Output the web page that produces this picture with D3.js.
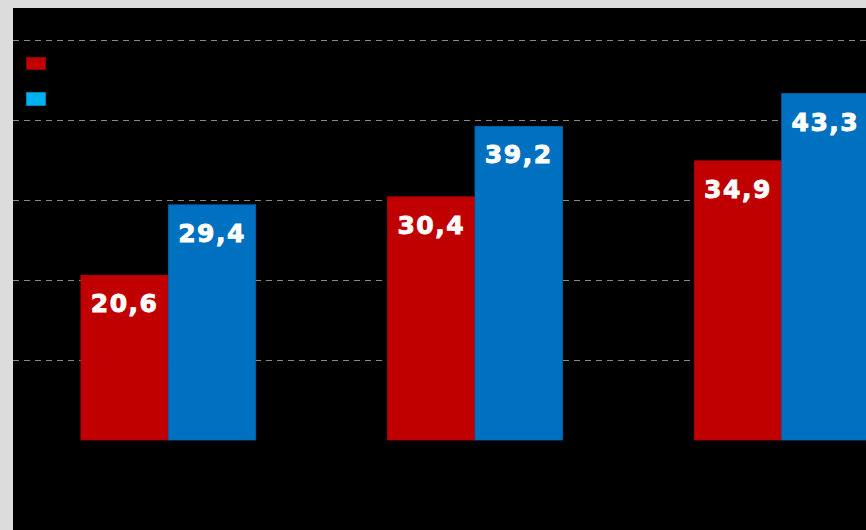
<!DOCTYPE html>
<html>
<head>
<meta charset="utf-8">
<script src="https://cdn.jsdelivr.net/npm/d3@7"></script>
<style>
  body { margin: 0; background: #dcdcdc; }
  svg { display: block; }
</style>
</head>
<body>
<div id="chart"></div>
<script>
// chart data
var groups = ["g1", "g2", "g3"];
var seriesNames = ["red", "blue"];
var redValues = [20.6, 30.4, 34.9];
var blueValues = [29.4, 39.2, 43.3];
var gridTicks = [10, 20, 30, 40, 50];

var svgWidth = 866;
var svgHeight = 530;

var svg = d3.select("#chart")
    .append("svg")
    .attr("width", svgWidth)
    .attr("height", svgHeight);

// black plot area inside the grey frame
svg.append("rect")
    .attr("x", 13)
    .attr("y", 8)
    .attr("width", svgWidth - 13)
    .attr("height", svgHeight - 8)
    .attr("fill", "#000");

var xScale = d3.scaleBand()
    .domain(groups)
    .range([15, 935])
    .paddingInner(0.43)
    .paddingOuter(0.215);

var xSub = d3.scaleBand()
    .domain(seriesNames)
    .range([0, xScale.bandwidth()]);

var yScale = d3.scaleLinear()
    .domain([0, 50])
    .range([440, 40]);

// dashed grid lines
svg.append("g")
    .selectAll("line")
    .data(gridTicks)
    .enter()
    .append("line")
    .attr("x1", 13)
    .attr("x2", svgWidth)
    .attr("y1", d => Math.round(yScale(d)) + 0.5)
    .attr("y2", d => Math.round(yScale(d)) + 0.5)
    .attr("stroke", "#8a8a8a")
    .attr("stroke-width", 1)
    .attr("stroke-dasharray", "6,5");

var colors = { red: "#c00000", blue: "#0070c0" };
var strokes = { red: "#b00000", blue: "#0064ac" };

var rows = groups.map((g, i) => ({
    group: g,
    values: [
        { key: "red", value: redValues[i] },
        { key: "blue", value: blueValues[i] }
    ]
}));

var groupSel = svg.selectAll(".grp")
    .data(rows)
    .enter()
    .append("g")
    .attr("class", "grp")
    .attr("transform", d => `translate(${xScale(d.group)}, 0)`);

groupSel.selectAll("rect")
    .data(d => d.values)
    .enter()
    .append("rect")
    .attr("x", d => xSub(d.key))
    .attr("y", d => yScale(d.value))
    .attr("width", xSub.bandwidth())
    .attr("height", d => yScale(0) - yScale(d.value))
    .attr("fill", d => colors[d.key])
    .attr("stroke", d => strokes[d.key])
    .attr("stroke-width", 0.8);

// value labels inside the bars
groupSel.selectAll("text")
    .data(d => d.values)
    .enter()
    .append("text")
    .attr("x", d => xSub(d.key) + xSub.bandwidth() / 2)
    .attr("y", d => yScale(d.value) + 37)
    .attr("text-anchor", "middle")
    .attr("fill", "#fff")
    .attr("stroke", "#fff")
    .attr("stroke-width", 0.9)
    .style("font-family", "'DejaVu Sans', Verdana, sans-serif")
    .style("font-weight", "bold")
    .style("font-size", "25px")
    .style("letter-spacing", "1.5px")
    .text(d => d.value.toFixed(1).replace(".", ","));

// legend swatches
var legendColors = ["#c00000", "#00b0f0"];
var legendStroke = ["#a00000", "#0090c8"];
svg.selectAll(".leg")
    .data(seriesNames)
    .enter()
    .append("rect")
    .attr("class", "leg")
    .attr("x", 26.5)
    .attr("y", (d, i) => 57.5 + i * 35)
    .attr("width", 19)
    .attr("height", (d, i) => i === 0 ? 12 : 13)
    .attr("fill", (d, i) => legendColors[i])
    .attr("stroke", (d, i) => legendStroke[i])
    .attr("stroke-width", 0.8);
</script>
</body>
</html>
